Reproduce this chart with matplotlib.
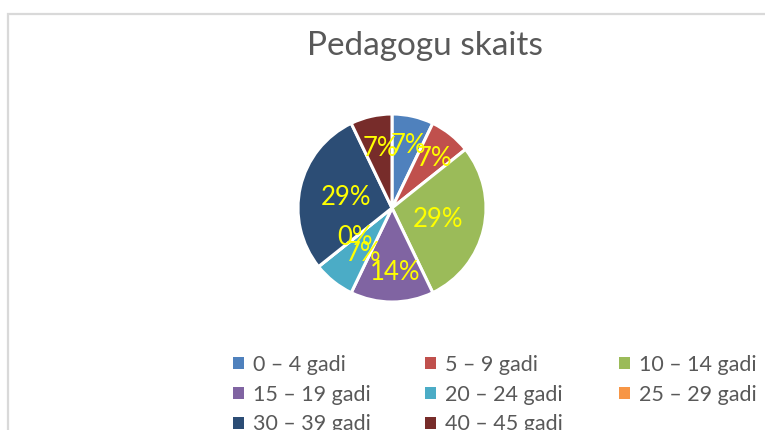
import matplotlib
matplotlib.use("Agg")
import matplotlib.pyplot as plt
import matplotlib.patches as mpatches
import numpy as np

categories = ["0 – 4 gadi", "5 – 9 gadi", "10 – 14 gadi", "15 – 19 gadi",
              "20 – 24 gadi", "25 – 29 gadi", "30 – 39 gadi", "40 – 45 gadi"]
counts = [1, 1, 4, 2, 1, 0, 4, 1]
colors = ["#4F81BD", "#C0504D", "#9BBB59", "#8064A2",
          "#4BACC6", "#F79646", "#2C4D75", "#772C2A"]
title = "Pedagogu skaits"

# label placement (fraction of radius, angle offset in degrees), style only
label_r = [0.69, 0.70, 0.505, 0.69, 0.575, 0.51, 0.50, 0.65]
label_dang = [-1.4, -2.0, -1.5, 2.5, 6.6, 0.0, 0.5, -1.5]

W, H = 765, 430
fig = plt.figure(figsize=(W / 100, H / 100), dpi=100)
fig.patch.set_facecolor("white")
plt.rcParams["font.family"] = ["Lato", "DejaVu Sans"]

# chart area border
border = mpatches.Rectangle((8 / W, -0.1), 1.2, 1.1 - 13.5 / H,
                            transform=fig.transFigure, fill=False,
                            edgecolor="#D9D9D9", linewidth=1.6, clip_on=False)
fig.patches.append(border)

cx, cy, r = 392, 208, 94
ax = fig.add_axes([(cx - r) / W, (H - cy - r) / H, 2 * r / W, 2 * r / H])
wedges, _ = ax.pie(counts, colors=colors, startangle=90, counterclock=False,
                   radius=1.0,
                   wedgeprops=dict(edgecolor="white", linewidth=2.2))
ax.set_xlim(-1, 1)
ax.set_ylim(-1, 1)
ax.set_aspect("equal")
ax.axis("off")

total = sum(counts)
for w, c, lr, da in zip(wedges, counts, label_r, label_dang):
    ang = np.deg2rad((w.theta1 + w.theta2) / 2 + da)
    ax.text(lr * np.cos(ang), lr * np.sin(ang), f"{round(100 * c / total)}%",
            ha="center", va="center", color="#FFFF00", fontsize=18.5)

fig.text(425 / W, 1 - 46 / H, title, ha="center", va="center",
         color="#595959", fontsize=24)

handles = [mpatches.Patch(facecolor=col, edgecolor="none") for col in colors]
columns = [[0, 3, 6], [1, 4, 7], [2, 5]]
col_x = [233, 425, 619]
for idxs, x in zip(columns, col_x):
    leg = fig.legend([handles[i] for i in idxs], [categories[i] for i in idxs],
                     ncol=1, loc="upper left", bbox_to_anchor=(x / W, 1 - 355 / H),
                     frameon=False, fontsize=15.5, handlelength=0.5,
                     handleheight=0.5, handletextpad=0.45,
                     labelspacing=0.45, borderaxespad=0, borderpad=0)
    for t in leg.get_texts():
        t.set_color("#595959")

fig.savefig("out.png", dpi=100)
